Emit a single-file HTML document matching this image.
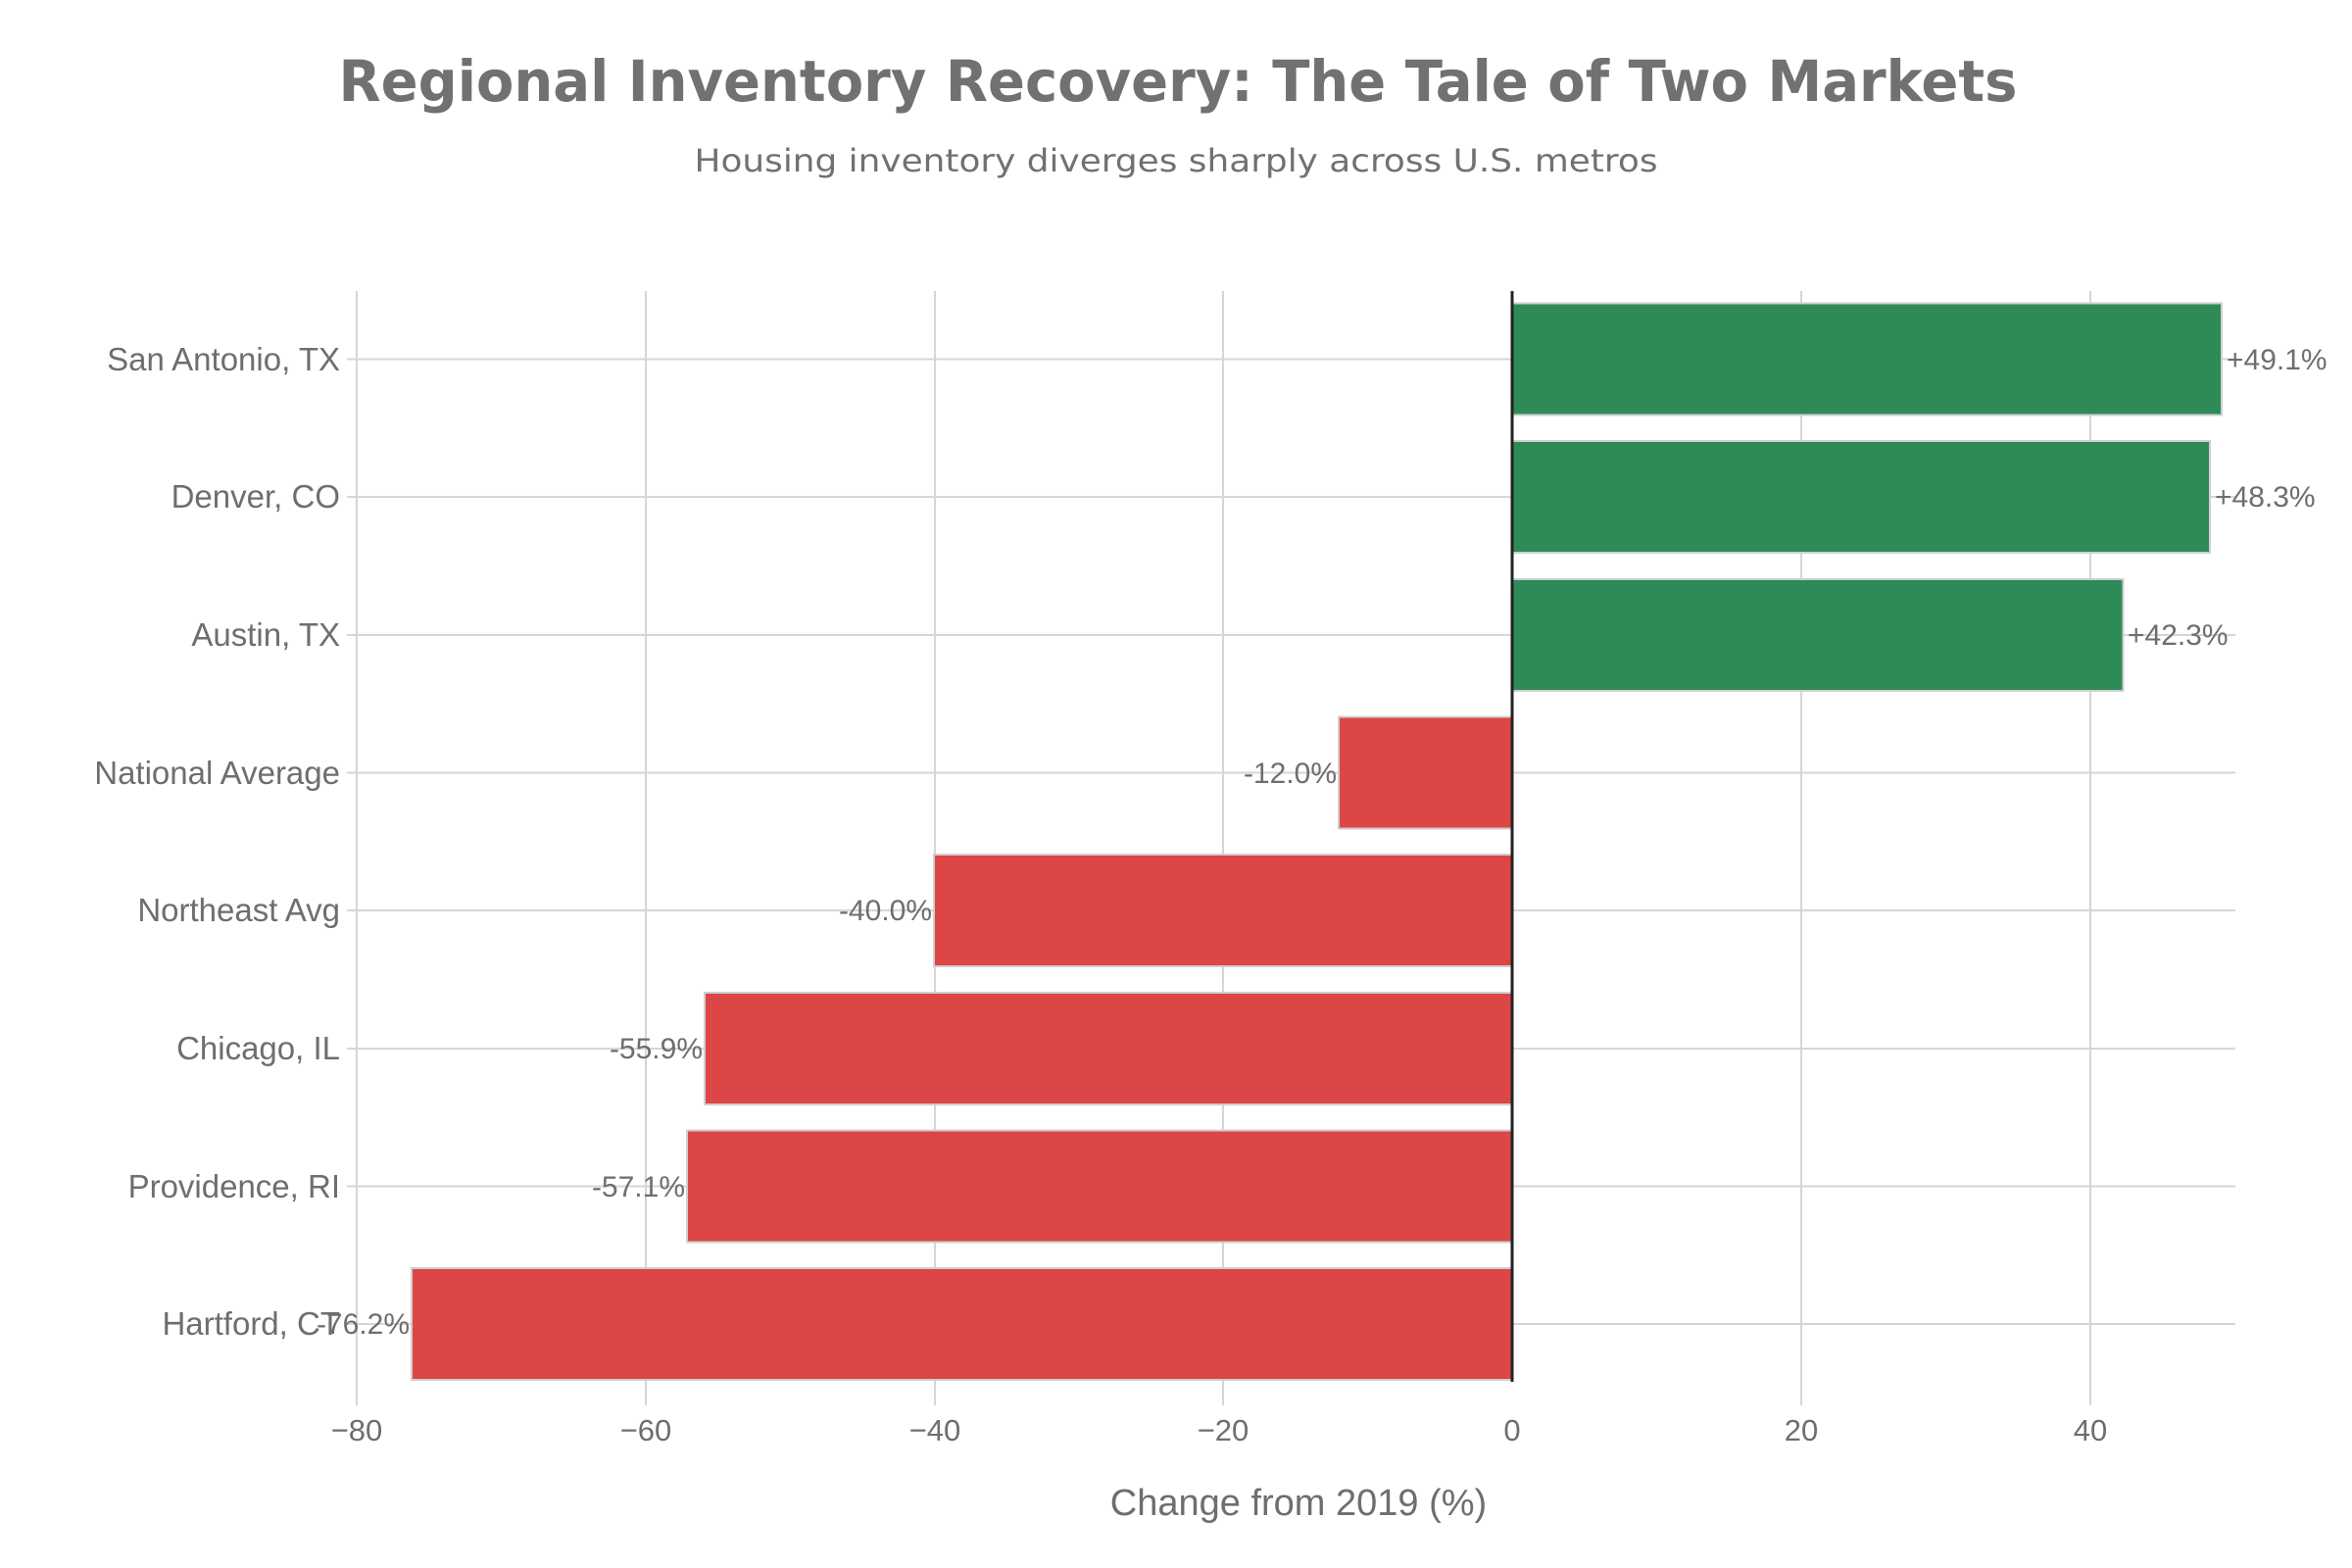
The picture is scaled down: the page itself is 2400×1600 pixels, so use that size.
<!DOCTYPE html>
<html><head><meta charset="utf-8"><style>html,body{margin:0;padding:0;background:#fff;overflow:hidden}svg{display:block}</style></head>
<body>
<svg width="2400" height="1600" viewBox="0 0 2400 1600" xmlns="http://www.w3.org/2000/svg">
<rect width="2400" height="1600" fill="#fff"/>
<text x="1202" y="103" text-anchor="middle" font-family="DejaVu Sans, sans-serif" font-weight="bold" font-size="58" fill="#717171" textLength="1713" lengthAdjust="spacingAndGlyphs">Regional Inventory Recovery: The Tale of Two Markets</text>
<text x="1200" y="175" text-anchor="middle" font-family="DejaVu Sans, sans-serif" font-size="32" fill="#717171" textLength="983" lengthAdjust="spacingAndGlyphs">Housing inventory diverges sharply across U.S. metros</text>
<g stroke="#d6d6d6" stroke-width="2">
<line x1="364" y1="297" x2="364" y2="1434"/>
<line x1="659" y1="297" x2="659" y2="1434"/>
<line x1="954" y1="297" x2="954" y2="1434"/>
<line x1="1248" y1="297" x2="1248" y2="1434"/>
<line x1="1838" y1="297" x2="1838" y2="1434"/>
<line x1="2133" y1="297" x2="2133" y2="1434"/>
<line x1="354" y1="366.5" x2="2281" y2="366.5"/>
<line x1="354" y1="507" x2="2281" y2="507"/>
<line x1="354" y1="648" x2="2281" y2="648"/>
<line x1="354" y1="788.5" x2="2281" y2="788.5"/>
<line x1="354" y1="929" x2="2281" y2="929"/>
<line x1="354" y1="1070" x2="2281" y2="1070"/>
<line x1="354" y1="1210.5" x2="2281" y2="1210.5"/>
<line x1="354" y1="1351" x2="2281" y2="1351"/>
</g>
<g stroke="#cfcfcf" stroke-width="2">
<rect x="1543" y="309.5" width="724" height="114" fill="#2e8b57"/>
<rect x="1543" y="450" width="712" height="114" fill="#2e8b57"/>
<rect x="1543" y="591" width="623.5" height="114" fill="#2e8b57"/>
<rect x="1366" y="731.5" width="177" height="114" fill="#dc4646"/>
<rect x="953" y="872" width="590" height="114" fill="#dc4646"/>
<rect x="719" y="1013" width="824" height="114" fill="#dc4646"/>
<rect x="701" y="1153.5" width="842" height="114" fill="#dc4646"/>
<rect x="420" y="1294" width="1123" height="114" fill="#dc4646"/>
</g>
<line x1="1543" y1="297" x2="1543" y2="1410" stroke="#222" stroke-width="3"/>
<g font-family="Liberation Sans, sans-serif" font-size="30" fill="#6e6e6e">
<g text-anchor="end" font-size="33">
<text x="347" y="378">San Antonio, TX</text>
<text x="347" y="518">Denver, CO</text>
<text x="347" y="659">Austin, TX</text>
<text x="347" y="800">National Average</text>
<text x="347" y="940">Northeast Avg</text>
<text x="347" y="1081">Chicago, IL</text>
<text x="347" y="1222">Providence, RI</text>
<text x="347" y="1362">Hartford, CT</text>
</g>
<g text-anchor="end">
<text x="1364" y="799">-12.0%</text>
<text x="951" y="939">-40.0%</text>
<text x="717" y="1080">-55.9%</text>
<text x="699" y="1221">-57.1%</text>
<text x="418" y="1361">-76.2%</text>
</g>
<text x="2272" y="377">+49.1%</text>
<text x="2260" y="517">+48.3%</text>
<text x="2171" y="658">+42.3%</text>
<g text-anchor="middle" font-size="31">
<text x="364" y="1470">−80</text>
<text x="659" y="1470">−60</text>
<text x="954" y="1470">−40</text>
<text x="1248" y="1470">−20</text>
<text x="1543" y="1470">0</text>
<text x="1838" y="1470">20</text>
<text x="2133" y="1470">40</text>
<text x="1325" y="1546" font-size="38">Change from 2019 (%)</text>
</g>
</g>
</svg>
</body></html>
